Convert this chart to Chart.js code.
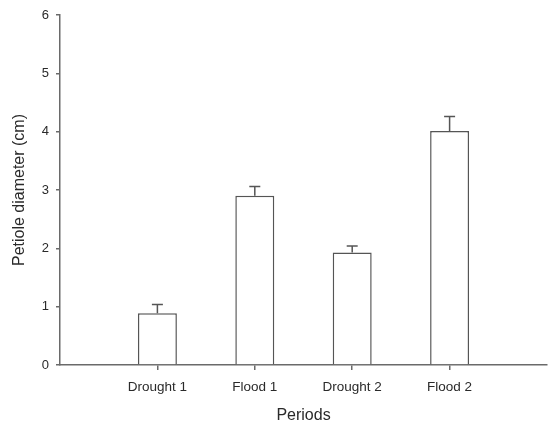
<!DOCTYPE html>
<html>
<head>
<meta charset="utf-8">
<script src="https://cdn.jsdelivr.net/npm/chart.js@4/dist/chart.umd.min.js"></script>
<style>
html,body{margin:0;padding:0;background:#fff;}
#wrap{width:553px;height:425px;position:relative;}
</style>
</head>
<body>
<div id="wrap"><canvas id="c" width="553" height="425"></canvas></div>
<script>
const categories = ['Drought 1', 'Flood 1', 'Drought 2', 'Flood 2'];
const positions = [1, 2, 3, 4];
const means = [0.886, 2.90, 1.93, 4.01];
const errors = [0.15, 0.16, 0.11, 0.25];
const yTicks = [0, 1, 2, 3, 4, 5, 6];

const AXIS = '#6a6a6a';
const BAR = '#555555';
const TEXT = '#2a2a2a';
const FONT = "'Liberation Sans', Arial, sans-serif";

const errorBarPlugin = {
  id: 'errorBars',
  afterDatasetsDraw(chart) {
    const ctx = chart.ctx;
    const xs = chart.scales.x, ys = chart.scales.y;
    ctx.save();
    ctx.strokeStyle = BAR;
    ctx.lineWidth = 1.5;
    means.forEach((m, i) => {
      const x = xs.getPixelForValue(positions[i]);
      const y0 = ys.getPixelForValue(m);
      const y1 = ys.getPixelForValue(m + errors[i]);
      ctx.beginPath();
      ctx.moveTo(x, y0);
      ctx.lineTo(x, y1);
      ctx.moveTo(x - 5.5, y1);
      ctx.lineTo(x + 5.5, y1);
      ctx.stroke();
    });
    ctx.restore();
  }
};

new Chart(document.getElementById('c'), {
  type: 'bar',
  data: {
    datasets: [{
      data: positions.map((p, i) => ({x: p, y: means[i]})),
      backgroundColor: '#ffffff',
      borderColor: BAR,
      borderWidth: 1.5,
      borderSkipped: 'bottom',
      categoryPercentage: 1,
      barPercentage: 0.4
    }]
  },
  options: {
    responsive: false,
    animation: false,
    devicePixelRatio: 1,
    layout: {padding: {top: 15, right: 6, left: 0, bottom: 0}},
    plugins: {legend: {display: false}, tooltip: {enabled: false}},
    scales: {
      x: {
        type: 'linear',
        offset: false,
        min: 0, max: 5,
        afterBuildTicks(s) { s.ticks = positions.map(v => ({value: v})); },
        afterFit(s) { s.height = 60; },
        grid: {offset: false, drawOnChartArea: false, drawTicks: true, tickLength: 5, color: AXIS, lineWidth: 1.5},
        border: {color: AXIS, width: 1.5},
        ticks: {
          autoSkip: false,
          maxRotation: 0,
          color: TEXT,
          font: {family: FONT, size: 13.5},
          padding: 9,
          callback(v) { const i = positions.indexOf(v); return i >= 0 ? categories[i] : ''; }
        },
        title: {display: true, text: 'Periods', color: TEXT, font: {family: FONT, size: 16}, padding: {top: 0, bottom: 0}}
      },
      y: {
        min: 0, max: 6,
        afterBuildTicks(s) { s.ticks = yTicks.map(v => ({value: v})); },
        afterFit(s) { s.width = 60; },
        grid: {drawOnChartArea: false, drawTicks: true, tickLength: 4, color: AXIS, lineWidth: 1.5},
        border: {color: AXIS, width: 1.5},
        ticks: {color: TEXT, font: {family: FONT, size: 13}, padding: 7},
        title: {display: true, text: 'Petiole diameter (cm)', color: TEXT, font: {family: FONT, size: 16}, padding: {top: 10, bottom: 4}}
      }
    }
  },
  plugins: [errorBarPlugin]
});
</script>
</body>
</html>
